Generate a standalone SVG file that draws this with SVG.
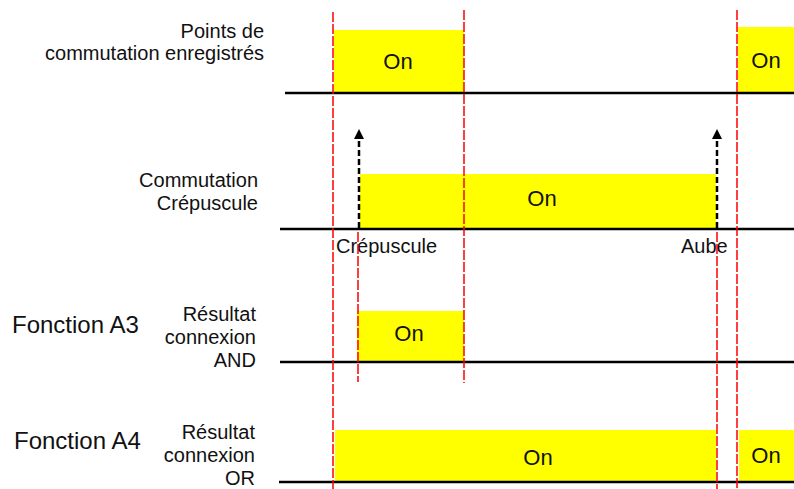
<svg xmlns="http://www.w3.org/2000/svg" width="794" height="489" viewBox="0 0 794 489">
<style>
.t{font-family:"Liberation Sans",Arial,sans-serif;fill:#111;font-size:20px}
.r{text-anchor:end}
.on{font-family:"Liberation Sans",Arial,sans-serif;fill:#111;font-size:22px;text-anchor:middle}
.big{font-family:"Liberation Sans",Arial,sans-serif;fill:#111;font-size:24px}
.box{fill:#ffff00}
.base{stroke:#000;stroke-width:2.5}
.red{stroke:#ff0000;stroke-width:1.5;stroke-dasharray:10 2}
.arr{stroke:#000;stroke-width:2.5;stroke-dasharray:6 3;marker-end:url(#ah)}
</style>
<defs>
<marker id="ah" markerWidth="4" markerHeight="4" refX="2" refY="2" orient="auto" markerUnits="strokeWidth" viewBox="0 0 4 4">
<path d="M0,0 L4,2 L0,4 Z" fill="#000"/>
</marker>
</defs>
<rect width="794" height="489" fill="#fff"/>
<g id="row1">
<rect class="box" x="334" y="30" width="130" height="63"/>
<rect class="box" x="738" y="27" width="56" height="66"/>
<text class="on" x="398" y="69">On</text>
<text class="on" x="766" y="68">On</text>
<text class="t r" x="264" y="38">Points de</text>
<text class="t r" x="264" y="60">commutation enregistrés</text>
</g>
<g id="row2">
<rect class="box" x="360" y="174" width="356" height="55"/>
<text class="on" x="542" y="206">On</text>
<text class="t r" x="258" y="187">Commutation</text>
<text class="t r" x="258" y="210">Crépuscule</text>
<text class="t" x="336" y="253">Crépuscule</text>
<text class="t" x="681" y="253">Aube</text>
</g>
<g id="row3">
<rect class="box" x="357" y="311" width="107" height="51"/>
<text class="on" x="409" y="341">On</text>
<text class="big" x="12" y="333">Fonction A3</text>
<text class="t r" x="256" y="321">Résultat</text>
<text class="t r" x="256" y="344">connexion</text>
<text class="t r" x="256" y="367">AND</text>
</g>
<g id="row4">
<rect class="box" x="335" y="430" width="381" height="52"/>
<rect class="box" x="739" y="430" width="55" height="52"/>
<text class="on" x="538" y="465">On</text>
<text class="on" x="766" y="463">On</text>
<text class="big" x="14" y="449">Fonction A4</text>
<text class="t r" x="255" y="439">Résultat</text>
<text class="t r" x="255" y="462">connexion</text>
<text class="t r" x="255" y="485">OR</text>
</g>
<g id="connectors">
<line class="base" x1="285" y1="93" x2="794" y2="93"/>
<line class="base" x1="280" y1="229" x2="794" y2="229"/>
<line class="base" x1="280" y1="362" x2="794" y2="362"/>
<line class="base" x1="279" y1="482" x2="794" y2="482"/>
<line class="red" x1="333" y1="12" x2="333" y2="489"/>
<line class="red" x1="464" y1="10" x2="464" y2="383"/>
<line class="red" x1="358" y1="232" x2="358" y2="382"/>
<line class="red" x1="717" y1="232" x2="717" y2="489"/>
<line class="red" x1="737" y1="10" x2="737" y2="489"/>
<line class="arr" x1="359" y1="228" x2="359" y2="134"/>
<line class="arr" x1="717" y1="228" x2="717" y2="134"/>
</g>
</svg>
